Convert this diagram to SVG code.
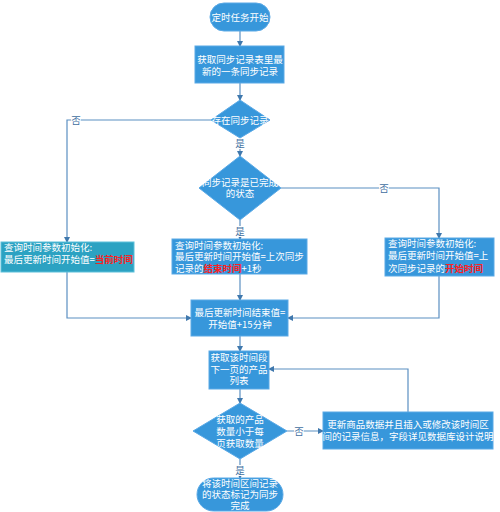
<svg xmlns="http://www.w3.org/2000/svg" width="500" height="512" viewBox="0 0 500 512">
<defs>
<marker id="arr" markerWidth="6" markerHeight="6" refX="5" refY="3" orient="auto" markerUnits="userSpaceOnUse">
<path d="M0,0 L6,3 L0,6 z" fill="#3f78ad"/>
</marker>
<style>
.n{fill:#3797db;stroke:#5aa9e6;stroke-width:1}
.t{fill:#2ca2c2;stroke:#5cc0da;stroke-width:1}
text{font-family:"Noto Sans CJK SC","Liberation Sans",sans-serif;font-size:9.5px;fill:#ffffff}
.c{text-anchor:middle}
.r{fill:#ff2020;font-weight:bold}
.e{stroke:#5b8fc2;stroke-width:1.2;fill:none}
.ea{stroke:#5b8fc2;stroke-width:1.2;fill:none;marker-end:url(#arr)}
.lb{fill:#3f6f9f;text-anchor:middle}
</style>
</defs>
<rect width="500" height="512" fill="#ffffff"/>
<g id="connectors">
<path class="ea" d="M240,31 V46"/>
<path class="ea" d="M240,83 V100"/>
<path class="ea" d="M240,138 V156"/>
<path class="ea" d="M211,120 H67 V242"/>
<path class="ea" d="M240,220 V239"/>
<path class="ea" d="M281,188 H439 V238"/>
<path class="ea" d="M67,272 V318 H191"/>
<path class="ea" d="M240,274 V300"/>
<path class="ea" d="M439,276 V318 H288"/>
<path class="ea" d="M240,336 V351"/>
<path class="ea" d="M240,389 V403"/>
<path class="ea" d="M287,431 H323"/>
<path class="ea" d="M408,412 V369 H269"/>
<path class="ea" d="M240,459 V478"/>
<rect x="71" y="114" width="10" height="11" fill="#fff"/>
<text class="lb" x="76" y="123.5">否</text>
<rect x="235" y="138" width="10" height="11" fill="#fff"/>
<text class="lb" x="240" y="147">是</text>
<rect x="235" y="226" width="10" height="11" fill="#fff"/>
<text class="lb" x="240" y="235">是</text>
<rect x="379" y="182" width="10" height="11" fill="#fff"/>
<text class="lb" x="384" y="191.5">否</text>
<rect x="294" y="425" width="10" height="11" fill="#fff"/>
<text class="lb" x="299" y="434.5">否</text>
<rect x="235" y="465" width="10" height="11" fill="#fff"/>
<text class="lb" x="240" y="474">是</text>
</g>
<g id="start">
<rect class="n" x="210" y="3" width="60" height="28" rx="14"/>
<text class="c" x="240" y="20.5">定时任务开始</text>
</g>
<g id="fetch-record">
<rect class="n" x="195" y="46" width="89" height="37"/>
<text class="c" x="240" y="63">获取同步记录表里最</text>
<text class="c" x="240" y="75">新的一条同步记录</text>
</g>
<g id="exists">
<polygon class="n" points="240,100 270,120 240,138 211,120"/>
<text class="c" x="240" y="123.5">存在同步记录</text>
</g>
<g id="completed">
<polygon class="n" points="240,156 281,188 240,220 199,188"/>
<text class="c" x="240" y="186">同步记录是已完成</text>
<text class="c" x="240" y="197">的状态</text>
</g>
<g id="init-current">
<rect class="t" x="1" y="242" width="133" height="30"/>
<text x="4" y="251">查询时间参数初始化:</text>
<text x="4" y="263">最后更新时间开始值=<tspan class="r">当前时间</tspan></text>
</g>
<g id="init-end">
<rect class="n" x="172" y="239" width="135" height="35"/>
<text x="175" y="248.5">查询时间参数初始化:</text>
<text x="175" y="260">最后更新时间开始值=上次同步</text>
<text x="175" y="271.5">记录的<tspan class="r">结束时间</tspan>+1秒</text>
</g>
<g id="init-start">
<rect class="n" x="385" y="238" width="109" height="38"/>
<text x="388" y="247">查询时间参数初始化:</text>
<text x="388" y="259">最后更新时间开始值=上</text>
<text x="388" y="271.5">次同步记录的<tspan class="r">开始时间</tspan></text>
</g>
<g id="set-end">
<rect class="n" x="191" y="300" width="97" height="36"/>
<text class="c" x="240" y="316">最后更新时间结束值=</text>
<text class="c" x="240" y="328">开始值+15分钟</text>
</g>
<g id="fetch-page">
<rect class="n" x="209" y="351" width="60" height="38"/>
<text class="c" x="239" y="360.5">获取该时间段</text>
<text class="c" x="239" y="372.5">下一页的产品</text>
<text class="c" x="239" y="384">列表</text>
</g>
<g id="less-than">
<polygon class="n" points="240,403 287,431 240,459 193,431"/>
<text class="c" x="240" y="423">获取的产品</text>
<text class="c" x="240" y="435">数量小于每</text>
<text class="c" x="240" y="446.5">页获取数量</text>
</g>
<g id="update">
<rect class="n" x="323" y="412" width="170" height="37"/>
<text class="c" x="408" y="428">更新商品数据并且插入或修改该时间区</text>
<text class="c" x="408" y="440">间的记录信息，字段详见数据库设计说明</text>
</g>
<g id="end">
<rect class="n" x="197" y="478" width="86" height="33" rx="16.5"/>
<text class="c" x="240" y="486.5">将该时间区间记录</text>
<text class="c" x="240" y="497.5">的状态标记为同步</text>
<text class="c" x="240" y="509">完成</text>
</g>
</svg>
